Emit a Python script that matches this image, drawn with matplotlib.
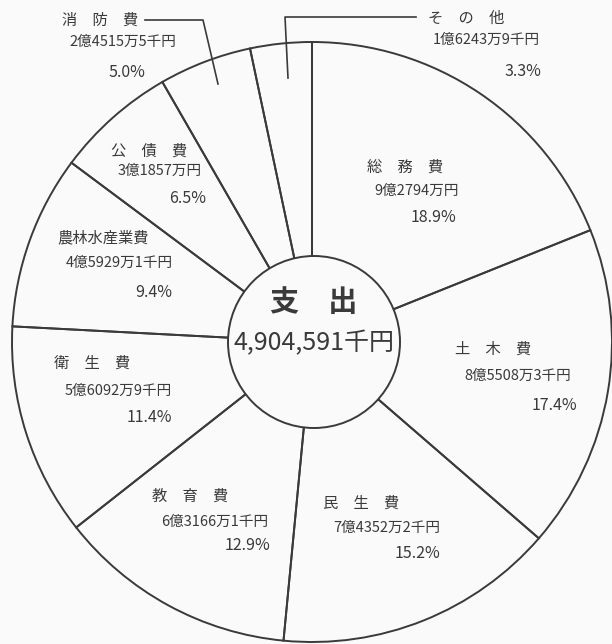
import matplotlib
matplotlib.use("Agg")
import matplotlib.pyplot as plt
from matplotlib.patches import Circle

plt.rcParams['font.family'] = ['Noto Sans CJK JP', 'DejaVu Sans']

# data (千円), clockwise from the top
categories = ['総　務　費', '土　木　費', '民　生　費', '教　育　費', '衛　生　費',
              '農林水産業費', '公　債　費', '消　防　費', 'そ　の　他']
values = [927940, 855083, 743522, 631661, 560929, 459291, 318570, 245155, 162439]
amounts = ['9億2794万円', '8億5508万3千円', '7億4352万2千円', '6億3166万1千円',
           '5億6092万9千円', '4億5929万1千円', '3億1857万円', '2億4515万5千円',
           '1億6243万9千円']
percents = [18.9, 17.4, 15.2, 12.9, 11.4, 9.4, 6.5, 5.0, 3.3]
total_label = '4,904,591千円'

W, H = 612, 644
ink = '#3a3a3a'

fig = plt.figure(figsize=(W / 100, H / 100), dpi=100)
fig.patch.set_facecolor('#fafafa')
ax = fig.add_axes([0, 0, 1, 1])

cx, cy, r = 312, H - 342, 300
wedges, _ = ax.pie(values, startangle=90, counterclock=False, center=(cx, cy),
                   radius=r, wedgeprops=dict(facecolor='none', edgecolor=ax.get_facecolor() if False else ink,
                                             linewidth=1.4))
ax.add_patch(Circle((cx + 2, cy), 86, facecolor='#fafafa', edgecolor=ink, lw=1.4, zorder=3))
ax.set_xlim(0, W)
ax.set_ylim(0, H)
ax.set_aspect('equal')
ax.axis('off')

# label positions in pixels (name, amount, percent) from the top-left corner
pos = [
    ((405, 167), (417, 191), (434, 217)),
    ((493, 349), (518, 376), (554, 405)),
    ((361, 503), (387, 528), (417, 553)),
    ((190, 496), (215, 522), (247, 545)),
    ((92, 363), (118, 391), (149, 417)),
    ((103, 238), (119, 263), (154, 292)),
    ((149, 151), (160, 171), (188, 198)),
    ((100, 20), (123, 42), (127, 72)),
    ((466, 18), (486, 40), (523, 71)),
]

for name, amt, pct, (p1, p2, p3) in zip(categories, amounts, percents, pos):
    ax.text(p1[0], H - p1[1], name, ha='center', va='center', fontsize=11, color=ink)
    ax.text(p2[0], H - p2[1], amt, ha='center', va='center', fontsize=10.5, color=ink)
    ax.text(p3[0], H - p3[1], f'{pct:.1f}%', ha='center', va='center', fontsize=11.5, color=ink)

# leader lines for the two thin slices
ax.plot([145, 203, 218], [H - 20, H - 20, H - 84], color=ink, lw=1.2)
ax.plot([416, 285, 288], [H - 17, H - 17, H - 78], color=ink, lw=1.2)

ax.text(cx + 2, H - 302, '支　出', ha='center', va='center', fontsize=21,
        fontweight='bold', color=ink, zorder=4)
ax.text(cx + 2, H - 343, total_label, ha='center', va='center', fontsize=18,
        color=ink, zorder=4)

fig.savefig('out.png', dpi=100, facecolor=fig.get_facecolor())
